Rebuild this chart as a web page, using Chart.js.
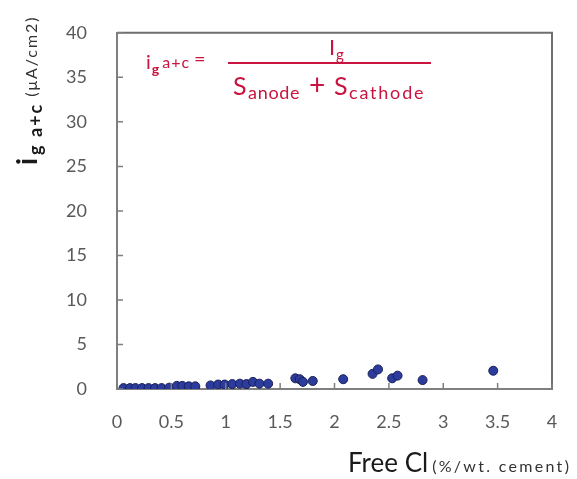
<!DOCTYPE html>
<html><head><meta charset="utf-8">
<script src="https://cdn.jsdelivr.net/npm/chart.js@4/dist/chart.umd.min.js"></script>
<style>html,body{margin:0;padding:0;background:#fff}#w{width:577px;height:479px}</style>
</head><body><div id="w"><canvas id="c" width="577" height="479"></canvas></div>
<script>
const freeCl = [0.06,0.12,0.17,0.23,0.29,0.35,0.41,0.48, 0.55,0.60,0.66,0.72, 0.86,0.93,0.99,1.06,1.13,1.19,1.25,1.31,1.39, 1.64,1.68,1.71,1.80, 2.08, 2.35,2.40, 2.53,2.58, 2.81, 3.46];
const iga = [0.1,0.1,0.1,0.1,0.1,0.1,0.1,0.15, 0.35,0.35,0.3,0.3, 0.4,0.5,0.5,0.55,0.6,0.55,0.8,0.6,0.6, 1.2,1.1,0.8,0.9, 1.1, 1.7,2.2, 1.2,1.5, 1.0, 2.05];
const xTicks = [0,0.5,1,1.5,2,2.5,3,3.5,4];
const yTicks = [0,5,10,15,20,25,30,35,40];

const pts = freeCl.map((x,i)=>({x:x,y:iga[i]}));
const RED = '#c8143f';

const deco = {
  id:'deco',
  afterDraw(chart){
    const ctx = chart.ctx, a = chart.chartArea;
    const xs = chart.scales.x, ys = chart.scales.y;
    ctx.save();
    // box top/right
    ctx.strokeStyle = '#6e6e6e'; ctx.lineWidth = 2;
    ctx.beginPath();
    ctx.moveTo(a.left, a.top); ctx.lineTo(a.right, a.top); ctx.lineTo(a.right, a.bottom);
    ctx.stroke();
    // inward ticks
    ctx.strokeStyle = '#7f7f7f'; ctx.lineWidth = 1.5;
    ctx.beginPath();
    xTicks.forEach(v=>{ const p = xs.getPixelForValue(v); ctx.moveTo(p, a.bottom); ctx.lineTo(p, a.bottom-6); });
    yTicks.forEach(v=>{ const p = ys.getPixelForValue(v); ctx.moveTo(a.left, p); ctx.lineTo(a.left+6, p); });
    ctx.stroke();

    // formula
    ctx.fillStyle = RED; ctx.textBaseline = 'alphabetic'; ctx.textAlign = 'left';
    let x = 146;
    ctx.font = '20px Lato'; ctx.fillText('i', x, 69); x += ctx.measureText('i').width + 1;
    ctx.font = 'bold 14px Lato'; ctx.fillText('g', x, 74); x += ctx.measureText('g').width + 3;
    ctx.font = '16px Lato'; ctx.letterSpacing = '1px'; ctx.fillText('a+c', x, 68); ctx.letterSpacing = '0px';
    ctx.font = '20px Lato'; ctx.fillText('=', 194, 66);
    ctx.strokeStyle = RED; ctx.lineWidth = 1.8;
    ctx.beginPath(); ctx.moveTo(228, 63); ctx.lineTo(431, 63); ctx.stroke();
    ctx.font = '22px Lato'; ctx.fillText('I', 329, 55);
    ctx.font = '15px Lato'; ctx.fillText('g', 336, 60);
    ctx.font = '25px Lato'; ctx.fillText('S', 233, 95);
    ctx.font = '18px Lato'; ctx.letterSpacing = '0.7px'; ctx.fillText('anode', 248, 99); ctx.letterSpacing = '0px';
    ctx.font = '28px Lato'; ctx.fillText('+', 309, 95);
    ctx.font = '25px Lato'; ctx.fillText('S', 334, 95);
    ctx.font = '18px Lato'; ctx.letterSpacing = '1.8px'; ctx.fillText('cathode', 349, 99); ctx.letterSpacing = '0px';

    // y title
    ctx.save();
    ctx.translate(37, 165); ctx.rotate(-Math.PI/2);
    ctx.fillStyle = '#1a1a1a';
    let t = 0;
    ctx.font = 'bold 28px Lato'; ctx.fillText('i', t, 0); t += ctx.measureText('i').width + 3;
    ctx.font = 'bold 18px Lato'; ctx.letterSpacing = '2px'; ctx.fillText('g a+c', t, 5); t += ctx.measureText('g a+c').width + 6;
    ctx.font = '16px Lato'; ctx.fillStyle = '#333'; ctx.letterSpacing = '2px'; ctx.fillText('(\u03bcA/cm2)', t, 0); ctx.letterSpacing = '0px';
    ctx.restore();

    // x title
    ctx.fillStyle = '#1a1a1a';
    ctx.font = '26px Lato'; ctx.fillText('Free Cl', 348, 472);
    let w = ctx.measureText('Free Cl').width;
    ctx.font = '16px Lato'; ctx.fillStyle = '#333'; ctx.letterSpacing = '2.3px';
    ctx.fillText('(%/wt. cement)', 348 + w + 4, 472); ctx.letterSpacing = '0px';
    ctx.restore();
  }
};

new Chart(document.getElementById('c'), {
  type:'scatter',
  data:{datasets:[{data:pts, pointRadius:4.5, pointHoverRadius:4.5,
    backgroundColor:'#2c3c9c', borderColor:'#1a1f5a', borderWidth:1}]},
  options:{
    responsive:false, animation:false, devicePixelRatio:1,
    layout:{padding:{left:0,right:25,top:19,bottom:0}},
    plugins:{legend:{display:false}, tooltip:{enabled:false}},
    scales:{
      x:{type:'linear', min:0, max:4,
        afterBuildTicks(s){ s.ticks = xTicks.map(v=>({value:v})); },
        afterFit(s){ s.height = 90; },
        grid:{display:false}, border:{display:true, color:'#7f7f7f', width:2},
        ticks:{padding:14, color:'#595959', font:{family:'Lato', size:18}, maxRotation:0,
          callback:v=>String(v)}},
      y:{type:'linear', min:0, max:40,
        afterBuildTicks(s){ s.ticks = yTicks.map(v=>({value:v})); },
        afterFit(s){ s.width = 117; },
        grid:{display:false}, border:{display:true, color:'#7f7f7f', width:2},
        ticks:{padding:22, color:'#595959', font:{family:'Lato', size:18}}}
    }
  },
  plugins:[deco]
});
</script></body></html>
